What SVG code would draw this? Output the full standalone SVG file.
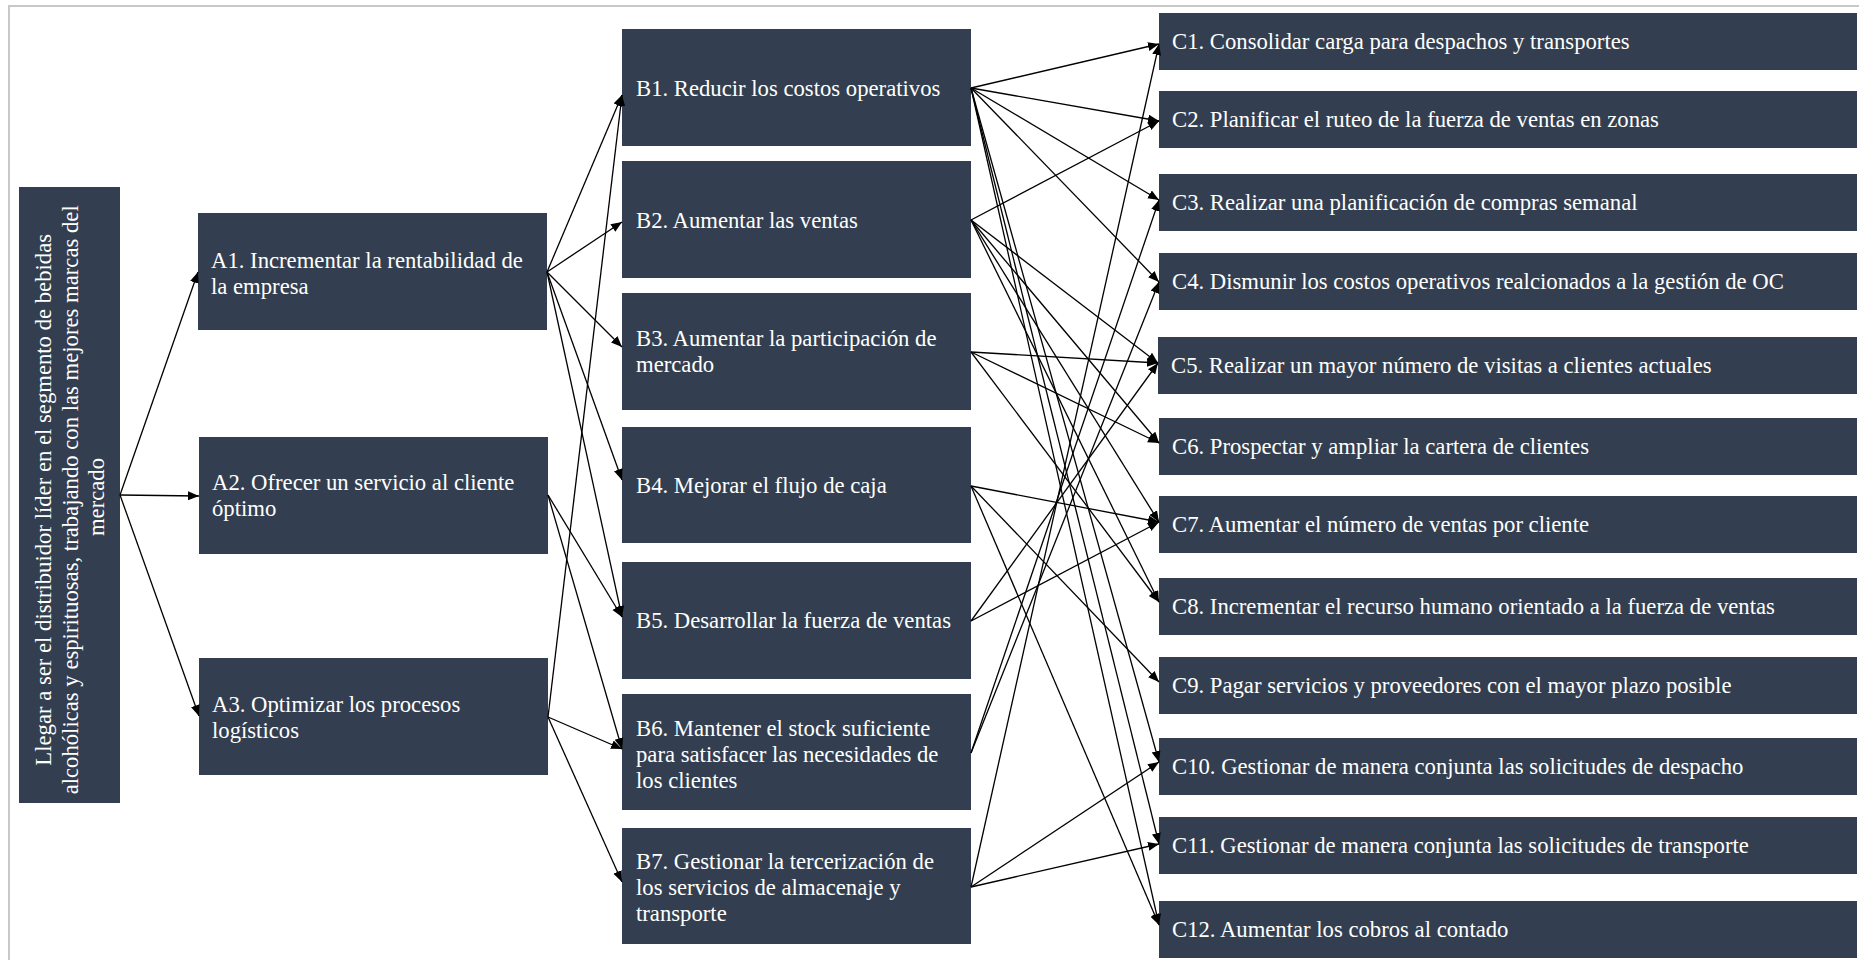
<svg xmlns="http://www.w3.org/2000/svg" width="1859" height="960" viewBox="0 0 1859 960">
  <defs>
    <marker id="arrow" markerUnits="userSpaceOnUse" markerWidth="12" markerHeight="10" refX="11" refY="4.5" orient="auto">
      <path d="M0,0 L11,4.5 L0,9 z" fill="#000"/>
    </marker>
  </defs>
  <style>
    .node rect { fill: #333f50; }
    .node text { fill: #ffffff; font-family: "Liberation Serif", "Times New Roman", serif; font-size: 22.7px; }
    .edges line { stroke: #000000; stroke-width: 1.3; fill: none; marker-end: url(#arrow); }
    .frame { fill: none; stroke: #c8c8c8; stroke-width: 2; }
  </style>

  <rect class="frame" x="9" y="6" width="1860" height="970"/>

  <!-- root goal -->
  <g id="root" class="node">
    <rect x="19" y="187" width="101" height="616"/>
    <text transform="rotate(-90)" text-anchor="middle">
      <tspan x="-497" y="51">Llegar a ser el distribuidor líder en el segmento de bebidas</tspan>
      <tspan x="-497" y="78">alcohólicas y espirituosas, trabajando con las mejores marcas del</tspan>
      <tspan x="-497" y="104">mercado</tspan>
    </text>
  </g>

  <!-- level A -->
  <g id="A1" class="node">
    <rect x="198" y="213" width="349" height="117"/>
    <text><tspan x="211" y="268">A1. Incrementar la rentabilidad de</tspan><tspan x="211" y="294">la empresa</tspan></text>
  </g>
  <g id="A2" class="node">
    <rect x="199" y="437" width="349" height="117"/>
    <text><tspan x="212" y="490">A2. Ofrecer un servicio al cliente</tspan><tspan x="212" y="516">óptimo</tspan></text>
  </g>
  <g id="A3" class="node">
    <rect x="199" y="658" width="349" height="117"/>
    <text><tspan x="212" y="712">A3. Optimizar los procesos</tspan><tspan x="212" y="738">logísticos</tspan></text>
  </g>

  <!-- level B -->
  <g id="B1" class="node">
    <rect x="622" y="29" width="349" height="117"/>
    <text x="636" y="96">B1. Reducir los costos operativos</text>
  </g>
  <g id="B2" class="node">
    <rect x="622" y="161" width="349" height="117"/>
    <text x="636" y="228">B2. Aumentar las ventas</text>
  </g>
  <g id="B3" class="node">
    <rect x="622" y="293" width="349" height="117"/>
    <text><tspan x="636" y="346">B3. Aumentar la participación de</tspan><tspan x="636" y="372">mercado</tspan></text>
  </g>
  <g id="B4" class="node">
    <rect x="622" y="427" width="349" height="116"/>
    <text x="636" y="493">B4. Mejorar el flujo de caja</text>
  </g>
  <g id="B5" class="node">
    <rect x="622" y="562" width="349" height="117"/>
    <text x="636" y="628">B5. Desarrollar la fuerza de ventas</text>
  </g>
  <g id="B6" class="node">
    <rect x="622" y="694" width="349" height="116"/>
    <text><tspan x="636" y="736">B6. Mantener el stock suficiente</tspan><tspan x="636" y="762">para satisfacer las necesidades de</tspan><tspan x="636" y="788">los clientes</tspan></text>
  </g>
  <g id="B7" class="node">
    <rect x="622" y="828" width="349" height="116"/>
    <text><tspan x="636" y="869">B7. Gestionar la tercerización de</tspan><tspan x="636" y="895">los servicios de almacenaje y</tspan><tspan x="636" y="921">transporte</tspan></text>
  </g>

  <!-- level C -->
  <g id="C1" class="node"><rect x="1159" y="13" width="698" height="57"/><text x="1172" y="49">C1. Consolidar carga para despachos y transportes</text></g>
  <g id="C2" class="node"><rect x="1159" y="91" width="698" height="57"/><text x="1172" y="127">C2. Planificar el ruteo de la fuerza de ventas en zonas</text></g>
  <g id="C3" class="node"><rect x="1159" y="174" width="698" height="57"/><text x="1172" y="210">C3. Realizar una planificación de compras semanal</text></g>
  <g id="C4" class="node"><rect x="1159" y="253" width="698" height="57"/><text x="1172" y="289">C4. Dismunir los costos operativos realcionados a la gestión de OC</text></g>
  <g id="C5" class="node"><rect x="1158" y="337" width="699" height="57"/><text x="1171" y="373">C5. Realizar un mayor número de visitas a clientes actuales</text></g>
  <g id="C6" class="node"><rect x="1159" y="418" width="698" height="57"/><text x="1172" y="454">C6. Prospectar y ampliar la cartera de clientes</text></g>
  <g id="C7" class="node"><rect x="1159" y="496" width="698" height="57"/><text x="1172" y="532">C7. Aumentar el número de ventas por cliente</text></g>
  <g id="C8" class="node"><rect x="1159" y="578" width="698" height="57"/><text x="1172" y="614">C8. Incrementar el recurso humano orientado a la fuerza de ventas</text></g>
  <g id="C9" class="node"><rect x="1159" y="657" width="698" height="57"/><text x="1172" y="693">C9. Pagar servicios y proveedores con el mayor plazo posible</text></g>
  <g id="C10" class="node"><rect x="1159" y="738" width="698" height="57"/><text x="1172" y="774">C10. Gestionar de manera conjunta las solicitudes de despacho</text></g>
  <g id="C11" class="node"><rect x="1159" y="817" width="698" height="57"/><text x="1172" y="853">C11. Gestionar de manera conjunta las solicitudes de transporte</text></g>
  <g id="C12" class="node"><rect x="1159" y="901" width="698" height="57"/><text x="1172" y="937">C12. Aumentar los cobros al contado</text></g>

  <!-- connectors -->
  <g id="edges" class="edges">
    <!-- root to A -->
    <line x1="120" y1="495" x2="198" y2="272"/>
    <line x1="120" y1="495" x2="199" y2="496"/>
    <line x1="120" y1="495" x2="199" y2="716"/>
    <!-- A to B -->
    <line x1="547" y1="272" x2="622" y2="95"/>
    <line x1="547" y1="272" x2="622" y2="222"/>
    <line x1="547" y1="272" x2="622" y2="347"/>
    <line x1="547" y1="272" x2="622" y2="480"/>
    <line x1="547" y1="272" x2="622" y2="617"/>
    <line x1="548" y1="495" x2="622" y2="617"/>
    <line x1="548" y1="495" x2="622" y2="749"/>
    <line x1="548" y1="717" x2="622" y2="95"/>
    <line x1="548" y1="717" x2="622" y2="749"/>
    <line x1="548" y1="717" x2="622" y2="882"/>
    <!-- B1 -->
    <line x1="971" y1="88" x2="1159" y2="44"/>
    <line x1="971" y1="88" x2="1159" y2="121"/>
    <line x1="971" y1="88" x2="1159" y2="200"/>
    <line x1="971" y1="88" x2="1159" y2="282"/>
    <line x1="971" y1="88" x2="1159" y2="762"/>
    <line x1="971" y1="88" x2="1159" y2="844"/>
    <line x1="971" y1="88" x2="1159" y2="925"/>
    <!-- B2 -->
    <line x1="971" y1="220" x2="1159" y2="121"/>
    <line x1="971" y1="220" x2="1158" y2="363"/>
    <line x1="971" y1="220" x2="1159" y2="443"/>
    <line x1="971" y1="220" x2="1159" y2="522"/>
    <line x1="971" y1="220" x2="1159" y2="602"/>
    <!-- B3 -->
    <line x1="971" y1="352" x2="1158" y2="363"/>
    <line x1="971" y1="352" x2="1159" y2="443"/>
    <line x1="971" y1="352" x2="1159" y2="602"/>
    <!-- B4 -->
    <line x1="971" y1="486" x2="1159" y2="522"/>
    <line x1="971" y1="486" x2="1159" y2="682"/>
    <line x1="971" y1="486" x2="1159" y2="925"/>
    <!-- B5 -->
    <line x1="971" y1="621" x2="1158" y2="363"/>
    <line x1="971" y1="621" x2="1159" y2="522"/>
    <!-- B6 -->
    <line x1="971" y1="753" x2="1159" y2="200"/>
    <line x1="971" y1="753" x2="1159" y2="282"/>
    <!-- B7 -->
    <line x1="971" y1="887" x2="1159" y2="44"/>
    <line x1="971" y1="887" x2="1159" y2="762"/>
    <line x1="971" y1="887" x2="1159" y2="844"/>
  </g>
</svg>
